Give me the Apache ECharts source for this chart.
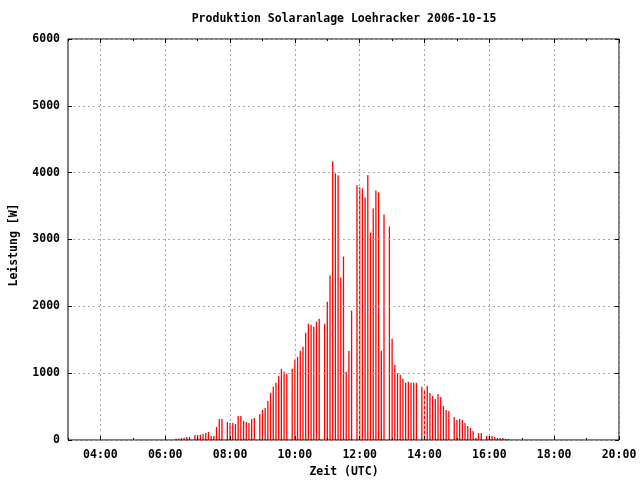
<!DOCTYPE html>
<html>
<head>
<meta charset="utf-8">
<script src="https://cdn.jsdelivr.net/npm/echarts@6/dist/echarts.min.js"></script>
<style>
html,body{margin:0;padding:0;background:#fff;}
#chart{width:640px;height:480px;}
</style>
</head>
<body>
<div id="chart"></div>
<script>
// ---- data (5-minute samples; null = missing sample) ----
const times = [
 '06:20','06:25','06:30','06:35','06:40','06:45','06:50','06:55',
 '07:00','07:05','07:10','07:15','07:20','07:25','07:30','07:35','07:40','07:45','07:50','07:55',
 '08:00','08:05','08:10','08:15','08:20','08:25','08:30','08:35','08:40','08:45','08:50','08:55',
 '09:00','09:05','09:10','09:15','09:20','09:25','09:30','09:35','09:40','09:45','09:50','09:55',
 '10:00','10:05','10:10','10:15','10:20','10:25','10:30','10:35','10:40','10:45','10:50','10:55',
 '11:00','11:05','11:10','11:15','11:20','11:25','11:30','11:35','11:40','11:45','11:50','11:55',
 '12:00','12:05','12:10','12:15','12:20','12:25','12:30','12:35','12:40','12:45','12:50','12:55',
 '13:00','13:05','13:10','13:15','13:20','13:25','13:30','13:35','13:40','13:45','13:50','13:55',
 '14:00','14:05','14:10','14:15','14:20','14:25','14:30','14:35','14:40','14:45','14:50','14:55',
 '15:00','15:05','15:10','15:15','15:20','15:25','15:30','15:35','15:40','15:45','15:50','15:55',
 '16:00','16:05','16:10','16:15','16:20','16:25','16:30','16:35'
];
const watts = [
 20,20,30,35,45,45,null,75,
 75,80,90,105,120,60,60,195,315,315,null,270,
 255,255,240,360,360,285,270,255,315,330,null,390,
 450,480,585,705,795,855,960,1065,1020,990,null,1065,
 1205,1245,1335,1395,1605,1740,1725,1695,1770,1815,null,1740,
 2070,2460,4170,3990,3960,2430,2745,1020,1335,1935,null,3810,
 3780,3765,3630,3960,3105,3465,3735,3705,1335,3375,null,3195,
 1515,1125,1000,975,915,855,870,855,855,855,null,795,
 750,810,705,660,615,690,645,510,450,435,null,345,
 300,315,300,255,210,180,135,30,105,105,null,60,
 60,60,45,30,30,30,15,15
];
const xMajorHours = [4,6,8,10,12,14,16,18,20];
const yTicks = [0,1000,2000,3000,4000,5000,6000];
const titleText = 'Produktion Solaranlage Loehracker 2006-10-15';
const xName = 'Zeit (UTC)';
const yName = 'Leistung [W]';

// ---- build ----
function toHours(s){ const p = s.split(':'); return +p[0] + (+p[1])/60; }
const seriesData = [];
times.forEach((t,i)=>{ if (watts[i] != null) seriesData.push([toHours(t), watts[i]]); });

const FONT = '"DejaVu Sans Mono", monospace';
const labelStyle = {color:'#000', fontFamily:FONT, fontWeight:'bold', fontSize:11.5};
const pad = n => (n<10?'0':'') + n;
const GRID_DASH = {color:'#a8a8a8', type:[2,3], width:1};

const GL = 68, GR = 21, GT = 39, GB = 40;

function xAxisBase(pos, showLabel, tickLen, custom){
  const a = {
    type:'value', position:pos, min:3, max:20, interval:1,
    axisLine:{show:false},
    axisTick:{show:true, inside:true, length:tickLen, lineStyle:{color:'#000', width:1}},
    axisLabel:{show:showLabel, margin:9, ...labelStyle,
      formatter: v => xMajorHours.indexOf(v) >= 0 ? pad(v)+':00' : ''},
    splitLine:{show:false},
    z:5
  };
  if (custom) a.axisTick.customValues = xMajorHours;
  return a;
}

const chart = echarts.init(document.getElementById('chart'), null, {renderer:'canvas'});
chart.setOption({
  animation:false,
  backgroundColor:'#fff',
  grid:{left:GL, right:GR, top:GT, bottom:GB, show:true, borderColor:'#000', borderWidth:1, backgroundColor:'transparent', z:4},
  xAxis:[
    Object.assign(xAxisBase('bottom', true, 2, false), {
      splitLine:{show:true, lineStyle:Object.assign({}, GRID_DASH, {color:['rgba(0,0,0,0)', GRID_DASH.color]})}
    }),
    xAxisBase('bottom', false, 4, true),
    xAxisBase('top', false, 2, false),
    xAxisBase('top', false, 4, true)
  ],
  yAxis:[
    {type:'value', min:0, max:6000, interval:1000, position:'left',
     axisLine:{show:false},
     axisTick:{show:true, inside:true, length:4, lineStyle:{color:'#000'}},
     axisLabel:{margin:8, ...labelStyle, formatter: v => yTicks.indexOf(v)>=0 ? String(v) : ''},
     splitLine:{show:true, lineStyle:GRID_DASH},
     z:5},
    {type:'value', min:0, max:6000, interval:1000, position:'right',
     axisLine:{show:false},
     axisTick:{show:true, inside:true, length:4, lineStyle:{color:'#000'}},
     axisLabel:{show:false}, splitLine:{show:false}, z:5}
  ],
  series:[{
    type:'bar', xAxisIndex:0, yAxisIndex:0,
    barWidth:1.3,
    itemStyle:{color:'#ff0000'},
    data:seriesData,
    z:2
  }],
  graphic:[
    {type:'text', x:344, y:19, z:10, style:{text:titleText, fill:'#000', font:'bold 11.5px '+FONT, textAlign:'center', textVerticalAlign:'middle'}},
    {type:'text', x:344, y:472, z:10, style:{text:xName, fill:'#000', font:'bold 11.5px '+FONT, textAlign:'center', textVerticalAlign:'middle'}},
    {type:'text', x:14, y:245, rotation:Math.PI/2, z:10, style:{text:yName, fill:'#000', font:'bold 11.5px '+FONT, textAlign:'center', textVerticalAlign:'middle'}}
  ]
});
</script>
</body>
</html>
